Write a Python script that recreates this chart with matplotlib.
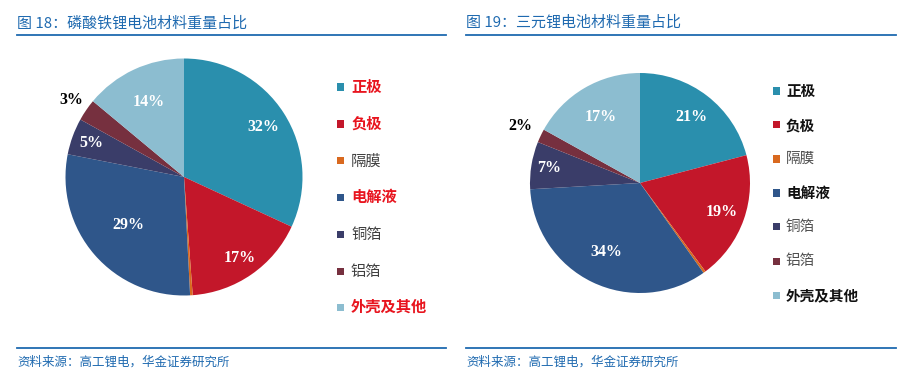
import matplotlib
matplotlib.use("Agg")
import matplotlib.pyplot as plt
from matplotlib.patches import Rectangle
from matplotlib.lines import Line2D
import numpy as np

plt.rcParams['font.family'] = ['Noto Sans CJK SC', 'DejaVu Sans']

categories = ['正极', '负极', '隔膜', '电解液', '铜箔', '铝箔', '外壳及其他']
lfp_values = [32, 17, 0.35, 29, 5, 3, 14]
ncm_values = [21, 19, 0.35, 34, 7, 2, 17]
lfp_labels = ['32%', '17%', '', '29%', '5%', '3%', '14%']
ncm_labels = ['21%', '19%', '', '34%', '7%', '2%', '17%']
title1 = '图 18：磷酸铁锂电池材料重量占比'
title2 = '图 19：三元锂电池材料重量占比'
source = '资料来源：高工锂电，华金证券研究所'

colors = ['#2A8FAD', '#C3172A', '#D9691F', '#2F568A', '#3A3D69', '#76303F', '#8CBDD0']

W, H = 906, 382
fig = plt.figure(figsize=(W / 100, H / 100), dpi=100)
fig.patch.set_facecolor('white')

BLUE = '#1F6AB0'


def px_axes(cx, cy, r):
    return fig.add_axes([(cx - r) / W, (H - cy - r) / H, 2 * r / W, 2 * r / H])


def draw_pie(cx, cy, r, values, labels, dists, label_colors):
    ax = px_axes(cx, cy, r)
    wedges, _ = ax.pie(values, colors=colors, startangle=90, counterclock=False,
                       radius=1.0, wedgeprops=dict(linewidth=0))
    ax.set_xlim(-1, 1)
    ax.set_ylim(-1, 1)
    ax.set_aspect('equal')
    ax.axis('off')
    for w, lab, d, c in zip(wedges, labels, dists, label_colors):
        if not lab:
            continue
        ang = np.deg2rad((w.theta1 + w.theta2) / 2)
        ax.text(d * np.cos(ang), d * np.sin(ang), lab, ha='center', va='center',
                fontsize=11.5, fontweight='bold', color=c,
                family=['Liberation Serif', 'DejaVu Serif'], clip_on=False)
    return ax


lab_cols1 = ['white', 'white', 'white', 'white', 'white', 'black', 'white']
draw_pie(184, 177, 118.5, lfp_values, lfp_labels,
         [0.79, 0.83, 0, 0.62, 0.83, 1.15, 0.70], lab_cols1)
draw_pie(640, 183, 110, ncm_values, ncm_labels,
         [0.76, 0.79, 0, 0.70, 0.84, 1.2, 0.70], lab_cols1)


def fx(x):
    return x / W


def fy(y):
    return 1 - y / H


# titles and rules
for x0, x1, t in [(17, 446, title1), (466, 896, title2)]:
    fig.text(fx(x0), fy(23), t, color=BLUE, fontsize=10.8, ha='left', va='center')
    fig.add_artist(Line2D([fx(x0), fx(x1)], [fy(34.5), fy(34.5)], color=BLUE, lw=1.3,
                          transform=fig.transFigure))
    fig.add_artist(Line2D([fx(x0), fx(x1)], [fy(347.5), fy(347.5)], color=BLUE, lw=1.3,
                          transform=fig.transFigure))
    fig.text(fx(x0), fy(362), source, color=BLUE, fontsize=9, ha='left', va='center',
             style='italic')

# legends
bold_items = [True, True, False, True, False, False, True]


def legend(mx, tx, ys, bold_color, reg_color, fs):
    s = 7
    for cat, col, y, b in zip(categories, colors, ys, bold_items):
        fig.add_artist(Rectangle((fx(mx), fy(y + s / 2)), s / W, s / H, color=col,
                                 transform=fig.transFigure, lw=0))
        fig.text(fx(tx), fy(y), cat, fontsize=fs,
                 fontweight='bold' if b else 'normal',
                 color=bold_color if b else reg_color, ha='left', va='center')


legend(337, 351, [87, 124, 161, 197, 234, 271, 307], '#E8141E', '#404040', 11)
legend(773, 786, [91, 125, 159, 193, 227, 261, 295], '#111111', '#505050', 10.5)

fig.savefig('out.png', dpi=100)
